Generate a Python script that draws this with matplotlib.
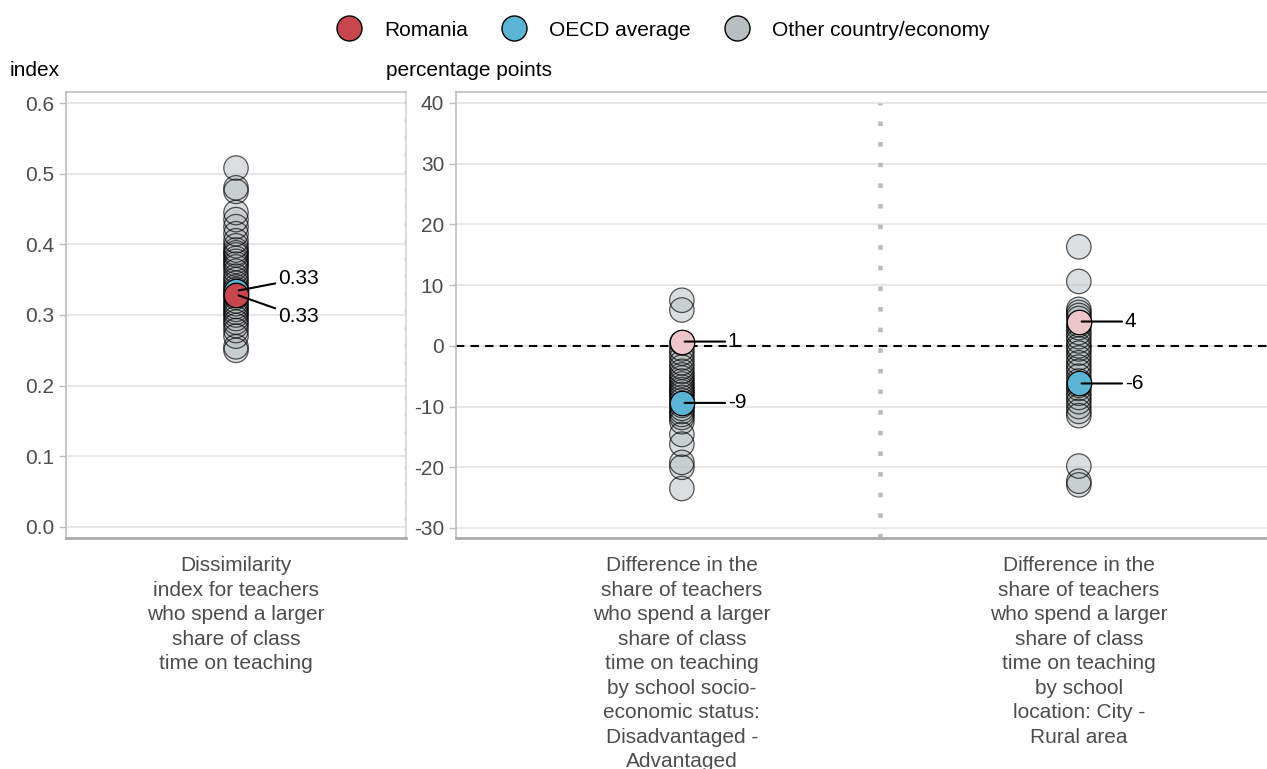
import matplotlib.pyplot as plt
from matplotlib.lines import Line2D

plt.rcParams["font.family"] = ["Liberation Sans", "DejaVu Sans"]
plt.rcParams["axes.unicode_minus"] = False

# Panel 1: dissimilarity index
index_others = [0.508, 0.480, 0.475, 0.445, 0.435, 0.425, 0.415, 0.405, 0.398, 0.392,
                0.388, 0.385, 0.380, 0.376, 0.372, 0.368, 0.362, 0.355, 0.350, 0.345,
                0.340, 0.336, 0.332, 0.328, 0.325, 0.320, 0.316, 0.312, 0.308, 0.304,
                0.300, 0.295, 0.290, 0.285, 0.278, 0.270, 0.255, 0.250]
index_romania = 0.329
index_oecd = 0.334

# Panel 2: socio-economic status difference (percentage points)
ses_others = [7.5, 5.9, 0.5, -0.5, -1.2, -2.0, -2.8, -3.5, -4.2, -4.8, -5.3, -5.8,
              -6.3, -6.8, -7.2, -7.6, -8.0, -8.5, -9.0, -9.8, -10.3, -10.8, -11.3,
              -11.8, -12.5, -14.6, -16.2, -19.2, -20.0, -23.5]
ses_romania = 0.7
ses_oecd = -9.4

# Panel 3: location difference (percentage points)
loc_others = [16.3, 10.6, 6.0, 5.5, 5.0, 4.5, 3.5, 3.0, 2.2, 1.5, 0.8, 0.0, -0.5,
              -1.2, -2.0, -2.8, -3.5, -4.2, -5.0, -5.8, -6.5, -7.0, -7.8, -8.5,
              -9.2, -10.0, -10.8, -11.5, -19.8, -22.3, -22.9]
loc_romania = 4.0
loc_oecd = -6.2

cat_labels = [
    "Dissimilarity\nindex for teachers\nwho spend a larger\nshare of class\ntime on teaching",
    "Difference in the\nshare of teachers\nwho spend a larger\nshare of class\ntime on teaching\nby school socio-\neconomic status:\nDisadvantaged -\nAdvantaged",
    "Difference in the\nshare of teachers\nwho spend a larger\nshare of class\ntime on teaching\nby school\nlocation: City -\nRural area",
]

RED = "#C8474F"
PINK = "#EEC6CA"
BLUE = "#5BB4D4"
GREY = "#B8BFC2"
TICK = "#4D4D4D"
GRID = "#E3E3E3"
SPINE = "#BDBDBD"
FS = 15
S = 310

W, H = 1267, 769
fig = plt.figure(figsize=(W / 100, H / 100), dpi=100)
ax1 = fig.add_axes([66 / W, (H - 538) / H, (406 - 66) / W, (538 - 92) / H])
ax2 = fig.add_axes([456 / W, (H - 538) / H, (W - 456) / W, (538 - 92) / H])


def style(ax):
    ax.grid(True, axis="y", color=GRID, linewidth=1.2, zorder=0)
    ax.set_axisbelow(True)
    for side in ["top", "left"]:
        ax.spines[side].set_color(SPINE)
        ax.spines[side].set_linewidth(1.2)
    ax.spines["bottom"].set_color("#AAAAAA")
    ax.spines["bottom"].set_linewidth(2)
    ax.tick_params(axis="y", colors=SPINE, labelcolor=TICK, labelsize=FS, length=5, width=1)
    ax.tick_params(axis="x", length=0, labelcolor=TICK, labelsize=FS, pad=13)


def others(ax, x, vals):
    ax.scatter([x] * len(vals), vals, s=S, facecolor=GREY, edgecolor="none", alpha=0.5, zorder=3)
    ax.scatter([x] * len(vals), vals, s=S, facecolor="none", edgecolor="black", alpha=0.65,
               linewidth=0.9, zorder=3)


def label(ax, x, y, text, dx, dy):
    ax.annotate(text, (x, y), xytext=(dx, dy), textcoords="offset pixels", ha="left",
                va="center", fontsize=FS, color="black", zorder=6,
                arrowprops=dict(arrowstyle="-", color="black", lw=1.5, shrinkA=0, shrinkB=2))


# Panel 1
style(ax1)
others(ax1, 1, index_others)
ax1.scatter([1], [index_oecd], s=S, facecolor=BLUE, edgecolor="black", linewidth=0.9, zorder=4)
ax1.scatter([1], [index_romania], s=S, facecolor=RED, edgecolor="black", linewidth=0.9, zorder=5)
label(ax1, 1, index_oecd, f"{index_oecd:.2f}", 42, 12)
label(ax1, 1, index_romania, f"{index_romania:.2f}", 42, -22)
ax1.set_xlim(0.5, 1.5)
ax1.set_ylim(-0.0156, 0.6156)
ax1.set_yticks([0, 0.1, 0.2, 0.3, 0.4, 0.5, 0.6])
ax1.set_yticklabels(["0.0", "0.1", "0.2", "0.3", "0.4", "0.5", "0.6"])
ax1.set_xticks([1])
ax1.set_xticklabels([cat_labels[0]], linespacing=1.37)
ax1.spines["right"].set_color("#D5D5D5")
ax1.spines["right"].set_linewidth(1.2)
ax1.axvline(1.5, color="#BBBBBB", linestyle=(0, (1, 4)), linewidth=2.5, zorder=2)

# Panels 2 and 3
style(ax2)
ax2.spines["right"].set_visible(False)
ax2.axhline(0, color="black", linestyle=(0, (4, 3)), linewidth=1.5, zorder=2)
ax2.axvline(1.5, ymin=0, ymax=0.975, color="#BBBBBB", linestyle=(0, (1, 3.5)),
            linewidth=3.3, zorder=2)
for x, vals, rom, oecd in [(1, ses_others, ses_romania, ses_oecd),
                           (2, loc_others, loc_romania, loc_oecd)]:
    others(ax2, x, vals)
    ax2.scatter([x], [oecd], s=S, facecolor=BLUE, edgecolor="black", linewidth=0.9, zorder=4)
    ax2.scatter([x], [rom], s=S, facecolor=PINK, edgecolor="black", linewidth=0.9, zorder=5)
    label(ax2, x, rom, f"{rom:.0f}", 46, 0)
    label(ax2, x, oecd, f"{oecd:.0f}", 46, 0)
ax2.set_xlim(0.431, 2.474)
ax2.set_ylim(-31.65, 41.8)
ax2.set_yticks(range(-30, 41, 10))
ax2.set_xticks([1, 2])
ax2.set_xticklabels(cat_labels[1:], linespacing=1.37)

fig.text(10 / W, 1 - 71 / H, "index", fontsize=FS, va="center", ha="left")
fig.text(386 / W, 1 - 71 / H, "percentage points", fontsize=FS, va="center", ha="left")

handles = [
    Line2D([], [], marker="o", linestyle="none", markersize=18, markerfacecolor=RED,
           markeredgecolor="black", label="Romania"),
    Line2D([], [], marker="o", linestyle="none", markersize=18, markerfacecolor=BLUE,
           markeredgecolor="black", label="OECD average"),
    Line2D([], [], marker="o", linestyle="none", markersize=18, markerfacecolor=GREY,
           markeredgecolor="black", label="Other country/economy"),
]
fig.legend(handles=handles, loc="center", bbox_to_anchor=(659 / W, 1 - 30 / H), ncol=3,
           frameon=False, fontsize=FS, handletextpad=0.7, columnspacing=1.2)

fig.savefig("out.png", dpi=100)
